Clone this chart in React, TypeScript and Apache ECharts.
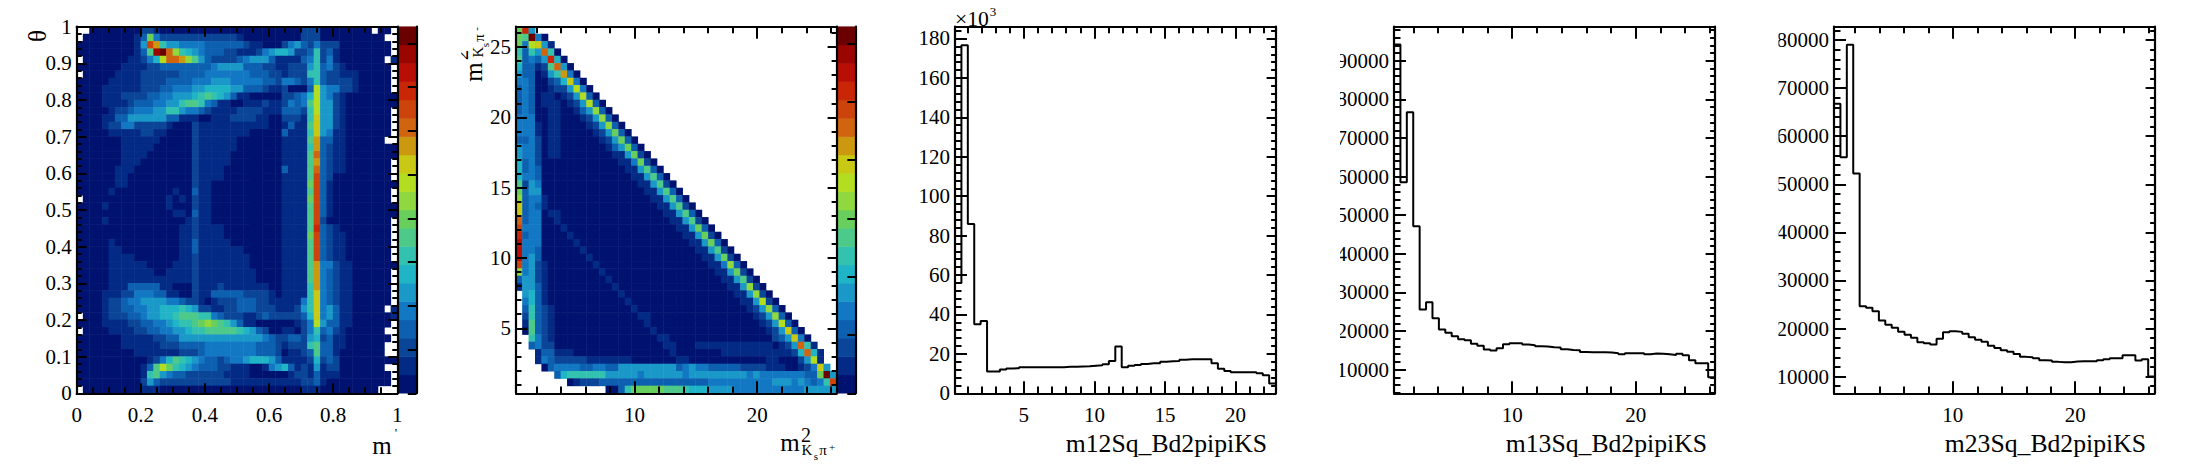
import React, { useEffect, useRef } from "react";
import * as echarts from "echarts";

const FONT = '"Liberation Serif"';

// colour levels of the heat maps, low to high
const palette = [
  "#001270", "#032a85", "#0a4598", "#0d60b0", "#1278c4", "#1a98c8", "#1fb4c6", "#33c2b0", "#4dc98a", "#68cf5c",
  "#8fd83f", "#b2dd20", "#c8c815", "#cb9810", "#d0640f", "#cc440b", "#c92608", "#b80e05", "#9a0500", "#6b0000",
];

// one string per row, top row first; one character per cell: level 0-j in base 20, "." is an empty cell; x(n) repeats x
const thetaRows = [
  "..00000000 2210000000 0000000000 0000022200 000000.00.",
  ".000000001 3942222222 2222210000 0000022200 00000000..",
  "0000000001 5fd7554444 3333332110 0024532422 200000000.",
  "0000000001 38ijea7654 3332211124 5665223723 100000000.",
  ".000000011 246beeda85 3222234555 3111134724 10000000.1",
  "0000000111 1223333333 3455553332 2112225734 210000000.",
  ".000001111 2222223333 4444444333 2212227732 211100000.",
  "0000011111 2222333344 4555444443 3244324732 222100000.",
  "0000111111 2223344455 6666553332 1120003b54 422100000.",
  "0000111222 2334455567 8765311000 0022346b54 2100000000",
  "0000111123 3344557887 4311001112 1124348b55 2100000000",
  "0000012234 4455775443 2111122221 1133327b55 210000000.",
  "0000113355 5555331110 0111222211 0022217c55 210000000.",
  "0000122442 2222100021 1111111111 0013118c55 210000000.",
  "0000011111 2211000021 1111111000 0031117c54 110000000.",
  "0000000111 1110000021 1111100000 0011118d33 11000000..",
  "0000000111 1100000021 1111100000 0011117d32 1100000000",
  "0000000111 1000000021 1111000000 0011118e32 1100000000",
  "0000000111 0000000021 1111000000 0011118d32 110000000.",
  "0000001110 0000000021 1110000000 0031118e32 110000000.",
  "0000001100 0000000021 1110000000 0011118f32 000000000.",
  "0000001100 0000000021 1000000000 0011119f31 0000000000",
  "0000010000 0000010031 1000000000 0011118f31 000000000.",
  ".000000000 0000101021 1000000000 0011119f31 000000000.",
  "0000100000 0000100021 1000000000 0011118f31 0000000000",
  "0000000000 0000011031 1000000000 0011118f31 0000000000",
  "0000100000 0000000121 1000000000 0011118f20 000000000.",
  "0000000000 0000001121 1110000000 0011118g32 100000000.",
  "0000000000 0000001121 1110000000 0011119f32 110000000.",
  "0000010000 0000001131 1111000000 0011118f32 110000000.",
  "0000011000 0000001131 1111110000 0011118f32 110000000.",
  "0000011110 0000001121 1111111000 0011118f32 110000000.",
  "0000011111 1000011121 1111111000 0011118d44 2110000000",
  "0000011111 1100111121 1111111100 0011118d43 211000000.",
  "0000011111 1111111121 1111111100 0011118d43 211000000.",
  "0000011133 3331100021 1121111111 0011117d43 211000000.",
  "0000111224 4433110021 1333332222 1011117c43 211000000.",
  "0000122344 5555443221 0122233322 1111147c43 211000000.",
  "0000122334 4556667652 2112233322 2111257c45 31100000.1",
  ".000122233 4556678887 7432221123 2222236c45 3110000001",
  "0000111122 3344567789 a987531100 0000124b53 311000000.",
  ".000011112 2334455677 8888876532 0011024734 21000000..",
  "0000000111 1122335555 5555555554 3223325623 110000000.",
  "0000000111 1112223333 4444444433 3212227833 11000000..",
  "0000000001 1111112223 4444444433 3201123833 10000000..",
  "0000000000 0124687654 3323445666 5311112623 2000000000",
  "0000000000 138b976543 3322111001 4563121512 20000000..",
  "0000000000 1785433222 2221111000 0001221311 100000000.",
  "0000000000 2532222222 2222111111 1111122310 000000000.",
  ".000000000 1110000000 0000000000 0000011100 0000000...",
];

const dalitzRows = [
  "9g5",
  "98j40",
  "94bc51",
  "7375e70",
  "83435g60",
  "633128e50",
  "5330157d40",
  "44300236c40",
  "343001225b40",
  "3430110125b30",
  "34301110125b30",
  "343001100135a30",
  "4440011000125a30",
  "44410110000125a30",
  "4441011 0(5) 125930",
  "3342011 0(6) 125930",
  "5442011 0(7) 135930",
  "5442011 0(8) 115920",
  "63420 0(11) 114920",
  "63430 0(12) 115830",
  "64430 0(13) 115830",
  "82540 0(14) 115820",
  "93550 0(15) 115830",
  "a3441 0(16) 115830",
  "c3431 0(17) 115820",
  "c344011 0(16) 115830",
  "e344001 0(17) 115820",
  "f4440001 0(17) 115930",
  "g34400001 0(17) 115920",
  "h444000001 0(17) 115930",
  "h4430000001 0(17) 115820",
  "h45300000001 0(17) 115920",
  "f4521 0(7) 1 0(17) 114a30",
  "a4521 0(8) 1 0(17) 115920",
  "35521 0(9) 1 0(17) 115820",
  "15531 0(10) 1 0(17) 115a20",
  ".5631 0(11) 1 0(17) 115a20",
  ".4631 0(12) 1 0(17) 115b20",
  ".37321 0(12) 1 0(17) 125a30",
  ".27321 0(13) 11 0(16) 125a30",
  ".18321 0(14) 1 0(17) 125b30",
  ".08321 0(15) 1 0(17) 125c30",
  "..7421 0(16) 11 0(16) 235c40",
  "..3422 0(17) 11 0(3) 1(12) 0 125e71",
  "...133111 0(15) 1 0(7) 1(11) 26e61",
  "...143 2(5) 1(7) 0(7) 11 0(12) 11 0(3) 25b1",
  "....03 4(4) 33 44 33 5(9) 345 44 3(5) 2(4) 1(3) 00 124c5",
  "......36 7(6) 5(5) 4 5(6) 4 5(9) 4 5 4(7) 33 9j5",
  "........01222 3(17) 4(10) 5(3) 4 5 4 3 4 7 f",
  ".(14) 00 3 7 9(5) 8(3) 7 6(3) 5(4) 4(11) 5(5)",
];

// histogram bin contents
const m12Counts = [
  55.9, 176.6, 85.9, 35, 36.7, 11, 11, 12, 12.6, 12.7, 13.2, 13.2, 13.2, 13.2, 13.2, 13.2, 13.2, 13.5, 13.5, 13.6,
  13.7, 14, 14.2, 14.7, 16.4, 23.7, 13.2, 13.9, 14.4, 14.9, 15.2, 15.2, 16, 16.2, 16.4, 17, 17.2, 17.2, 17.2, 17.2,
  15.2, 12.5, 11.3, 10.7, 10.7, 10.7, 10.7, 10.2, 9.1, 4.9,
];
const m13Counts = [
  94250, 58530, 76700, 47110, 25570, 27470, 23320, 20380, 19520, 18650, 17870, 17610, 16660, 16140, 15190, 14930,
  15540, 16570, 16830, 16830, 16490, 16310, 16060, 15970, 15800, 15710, 15280, 15100, 15020, 14580, 14500, 14500,
  14500, 14400, 14240, 13980, 14240, 14240, 14240, 13980, 14150, 14070, 13980, 13800, 14070, 13720, 12420, 11640,
  11640, 8010,
];
const m23Counts = [
  66740, 55630, 79030, 52220, 24650, 24300, 23610, 21670, 20760, 20140, 19300, 18680, 18060, 17150, 16940, 16670,
  17850, 19240, 19440, 19300, 18890, 18190, 17640, 17220, 16390, 15970, 15490, 15140, 14720, 14100, 14030, 13820,
  13400, 13330, 13060, 12990, 12990, 13130, 13190, 13190, 13190, 13400, 13610, 13820, 13820, 14440, 14440, 13330,
  13610, 10000,
];

// tick positions
const span = (from: number, to: number, step: number) => {
  const out: number[] = [];
  for (let k = 0; from + k * step <= to + 1e-9; k++) out.push(+(from + k * step).toFixed(4));
  return out;
};
const thetaXMajor = [0, 0.2, 0.4, 0.6, 0.8, 1];
const thetaYMajor = [0, 0.1, 0.2, 0.3, 0.4, 0.5, 0.6, 0.7, 0.8, 0.9, 1];
const dalitzXMajor = [10, 20];
const dalitzYMajor = [5, 10, 15, 20, 25];
const m12XMajor = [5, 10, 15, 20];
const m12YMajor = [0, 20, 40, 60, 80, 100, 120, 140, 160, 180];
const m13XMajor = [10, 20];
const m13YMajor = [10000, 20000, 30000, 40000, 50000, 60000, 70000, 80000, 90000];
const m23XMajor = [10, 20];
const m23YMajor = [10000, 20000, 30000, 40000, 50000, 60000, 70000, 80000];

const decode = (row: string) =>
  row
    .replace(/\s/g, "")
    .replace(/(.)\((\d+)\)/g, (_: string, c: string, n: string) => c.repeat(+n))
    .padEnd(50, ".");

const cellsOf = (rows: string[]) => {
  const out: number[][] = [];
  rows.forEach((row, r) => {
    const s = decode(row);
    for (let c = 0; c < 50; c++) {
      if (s[c] !== ".") out.push([c, 49 - r, parseInt(s[c], 20)]);
    }
  });
  return out;
};

const TOP = 26.67;
const H = 366.6;
const W = 320.6;

export default function App() {
  const ref = useRef<HTMLDivElement>(null);
  useEffect(() => {
    const chart = echarts.init(ref.current!, null, { renderer: "svg" });
    const grids: any[] = [];
    const xAxis: any[] = [];
    const yAxis: any[] = [];
    const series: any[] = [];

    const addGrid = (left: number, top: number, width: number, height: number) => {
      grids.push({ left, top, width, height, containLabel: false, show: false });
      return grids.length - 1;
    };
    const axis = (
      gridIndex: number, position: string, min: number, max: number, ticks: number[], length: number, labels?: number[],
      margin?: number, line = true,
    ) => ({
      type: "value", gridIndex, position, min, max, scale: true, z: 5, silent: true,
      axisLine: { show: line, onZero: false, lineStyle: { color: "#000", width: 2.2 } },
      axisTick: { show: true, inside: true, length, customValues: ticks, lineStyle: { color: "#000", width: 2 } },
      minorTick: { show: false },
      splitLine: { show: false },
      axisLabel: labels
        ? { show: true, customValues: labels, margin, color: "#000", fontFamily: FONT, fontSize: 21, hideOverlap: false,
            showMinLabel: true, showMaxLabel: true, formatter: (v: number) => String(v) }
        : { show: false },
    });

    const framed = (
      left: number, xr: number[], yr: number[], xMaj: number[], xMin: number[], yMaj: number[], yMin: number[],
      t: { x: number; xm: number; l: number; lm: number; r: number; rm: number },
    ) => {
      const g = addGrid(left, TOP, W, H);
      const xIndex = xAxis.length;
      const yIndex = yAxis.length;
      xAxis.push(axis(g, "bottom", xr[0], xr[1], xMaj, t.x, xMaj, 11));
      xAxis.push(axis(g, "top", xr[0], xr[1], xMaj, t.x));
      yAxis.push(axis(g, "left", yr[0], yr[1], yMaj, t.l, yMaj, 5));
      yAxis.push(axis(g, "right", yr[0], yr[1], yMaj, t.r));
      const m = addGrid(left, TOP, W, H);
      xAxis.push(axis(m, "bottom", xr[0], xr[1], xMin, t.xm, undefined, undefined, false));
      xAxis.push(axis(m, "top", xr[0], xr[1], xMin, t.xm, undefined, undefined, false));
      yAxis.push(axis(m, "left", yr[0], yr[1], yMin, t.lm, undefined, undefined, false));
      yAxis.push(axis(m, "right", yr[0], yr[1], yMin, t.rm, undefined, undefined, false));
      return { xIndex, yIndex };
    };

    const heat = (left: number, top: number, width: number, height: number, nx: number, ny: number, data: number[][]) => {
      const g = addGrid(left, top, width, height);
      xAxis.push({ type: "category", gridIndex: g, show: false, data: span(0, nx - 1, 1) });
      yAxis.push({ type: "category", gridIndex: g, show: false, data: span(0, ny - 1, 1) });
      series.push({
        type: "heatmap", xAxisIndex: xAxis.length - 1, yAxisIndex: yAxis.length - 1, data, silent: true, progressive: 0,
        itemStyle: { borderWidth: 0 }, emphasis: { disabled: true },
      });
    };

    const paletteBar = (left: number, width: number, max: number, ticks: number[]) => {
      heat(left, TOP, width, H, 1, 20, palette.map((_, i) => [0, i, i]));
      const g = addGrid(left, TOP, width, H);
      xAxis.push({ type: "value", gridIndex: g, show: false, min: 0, max: 1 });
      yAxis.push(axis(g, "right", 0, max, ticks, 8.7));
    };

    const hist = (
      left: number, xr: number[], yr: number[], xMaj: number[], xMinStep: number, yMaj: number[], yMinStep: number,
      counts: number[],
    ) => {
      const t = { x: 12, xm: 6.7, l: 12, lm: 6.5, r: 9, rm: 4.5 };
      const xMin = span(Math.ceil(xr[0] / xMinStep) * xMinStep, xr[1], xMinStep);
      const yMin = span(Math.ceil(yr[0] / yMinStep) * yMinStep, yr[1], yMinStep);
      const idx = framed(left, xr, yr, xMaj, xMin, yMaj, yMin, t);
      const w = (xr[1] - xr[0]) / counts.length;
      const points = counts.map((v, i) => [xr[0] + i * w, v]);
      points.push([xr[1], counts[counts.length - 1]]);
      series.push({
        type: "line", step: "end", xAxisIndex: idx.xIndex, yAxisIndex: idx.yIndex, data: points, showSymbol: false,
        symbol: "none", silent: true, z: 3, lineStyle: { color: "#000", width: 2 },
      });
    };

    // panel 1: theta vs m'
    heat(76.67, TOP, W, H, 50, 50, cellsOf(thetaRows));
    framed(76.67, [0, 1], [0, 1], thetaXMajor, span(0, 1, 0.05), thetaYMajor, span(0, 1, 0.02),
      { x: 10, xm: 6, l: 10, lm: 5, r: 9, rm: 5 });
    paletteBar(399, 17.5, 8.38, span(0, 8, 1));

    // panel 2: Dalitz plane
    heat(516, TOP, W, H, 50, 50, cellsOf(dalitzRows));
    framed(516, [0.33, 26.47], [0.38, 26.45], dalitzXMajor, span(2, 26, 2), dalitzYMajor, span(1, 26, 1),
      { x: 12, xm: 6.7, l: 11, lm: 5.5, r: 9, rm: 5 });
    paletteBar(838, 18, 6.29, span(0, 6, 1));

    // panels 3-5: projections
    hist(955, [0.12, 22.84], [0, 186], m12XMajor, 1, m12YMajor, 4, m12Counts);
    hist(1394, [0.43, 26.39], [3860, 98840], m13XMajor, 2, m13YMajor, 2000, m13Counts);
    hist(1834, [0.3, 26.48], [6530, 82780], m23XMajor, 2, m23YMajor, 2000, m23Counts);

    const txt = (text: string, x: number, y: number, size: number, align = "center", rotation = 0) => ({
      type: "text", x, y, rotation, z: 101, silent: true,
      style: {
        text, fill: "#000", font: `${size}px ${FONT}`, textAlign: align, textVerticalAlign: "middle", align,
        verticalAlign: "middle",
      },
    });
    const cover = (x: number, y: number, width: number, height: number, z = 100) => ({
      type: "rect", x, y, z, silent: true, shape: { x: 0, y: 0, width, height }, style: { fill: "#fff" },
    });
    const R = Math.PI / 2;

    chart.setOption({
      animation: false,
      backgroundColor: "#fff",
      grid: grids,
      xAxis,
      yAxis,
      series,
      visualMap: {
        type: "piecewise", show: false, dimension: 2,
        seriesIndex: series.map((s, i) => (s.type === "heatmap" ? i : -1)).filter((i) => i >= 0),
        pieces: palette.map((color, i) => ({ value: i, color })),
      },
      graphic: {
        elements: [
          cover(1300, 20, 40, 380),
          cover(1740, 20, 38.5, 380),
          txt("2", 461, 55, 20, "center", R),
          cover(445, 45, 16.3, 20, 102),
          txt("θ", 37, 36, 25, "center", R),
          txt("m", 382, 445, 25),
          txt("'", 396, 432, 13),
          txt("m", 790, 442, 25),
          txt("2", 806, 435, 20),
          txt("K", 807, 450, 15),
          txt("s", 816, 456, 11),
          txt("π", 823, 450, 15),
          txt("+", 832, 447, 11),
          txt("m", 473, 72, 25, "center", R),
          txt("K", 478, 52, 15, "center", R),
          txt("s", 485, 45, 11, "center", R),
          txt("π", 479, 38, 15, "center", R),
          txt("-", 476, 29, 11, "center", R),
          txt("×10", 955, 19, 21.7, "left"),
          txt("3", 993, 11, 13),
          txt("m12Sq_Bd2pipiKS", 1267, 443, 25.7, "right"),
          txt("m13Sq_Bd2pipiKS", 1707, 443, 25.7, "right"),
          txt("m23Sq_Bd2pipiKS", 2146, 443, 25.7, "right"),
        ],
      },
    });
    return () => chart.dispose();
  }, []);
  return <div ref={ref} style={{ position: "fixed", left: 0, top: 0, width: 2196, height: 472, background: "#fff" }} />;
}
